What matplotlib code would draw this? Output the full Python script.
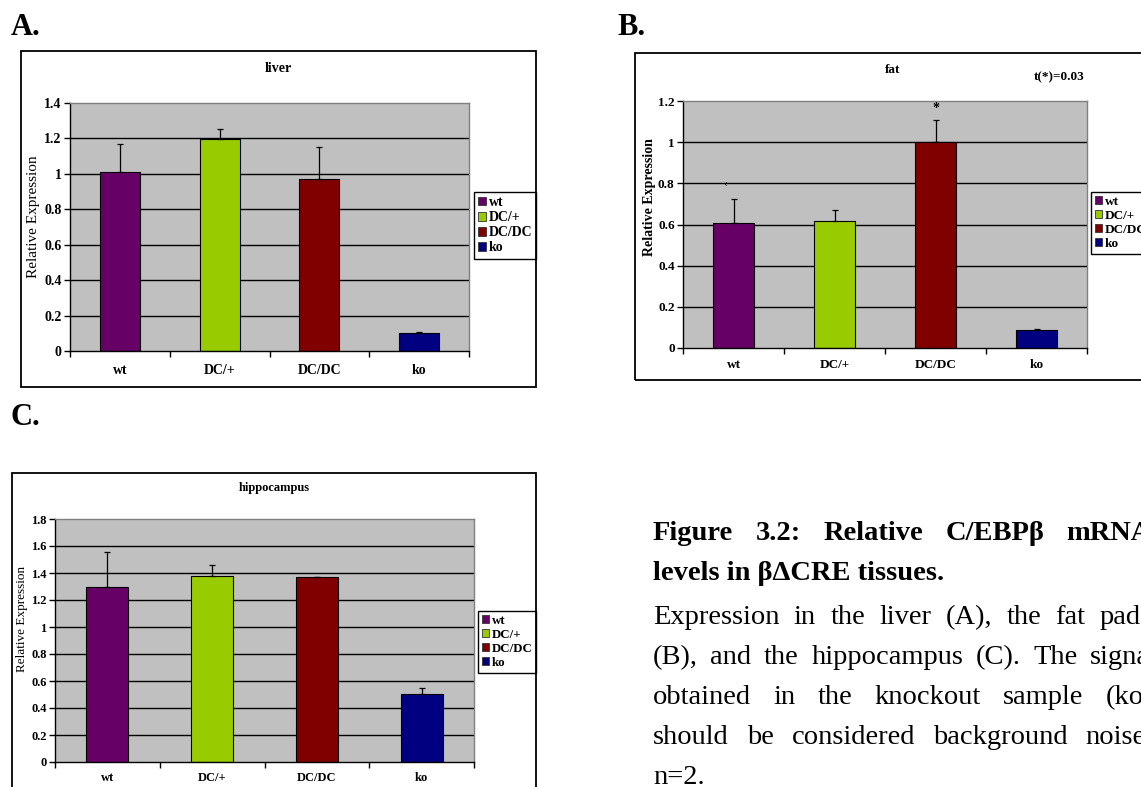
import numpy as np
import matplotlib
matplotlib.use("Agg")
import matplotlib.pyplot as plt
from matplotlib.patches import Rectangle, Patch

plt.rcParams["font.family"] = ["Liberation Serif", "DejaVu Serif"]

# ---------- Data ----------
groups = ["wt", "DC/+", "DC/DC", "ko"]
bar_colors = ["#660066", "#99CC00", "#800000", "#000080"]

liver_mean = [1.012, 1.195, 0.973, 0.100]
liver_err = [0.156, 0.056, 0.177, 0.005]
liver_ticks = [0, 0.2, 0.4, 0.6, 0.8, 1.0, 1.2, 1.4]

fat_mean = [0.606, 0.615, 1.002, 0.087]
fat_err = [0.116, 0.054, 0.104, 0.007]
fat_ticks = [0, 0.2, 0.4, 0.6, 0.8, 1.0, 1.2]

hippo_mean = [1.300, 1.380, 1.373, 0.501]
hippo_err = [0.258, 0.077, 0.0, 0.045]
hippo_ticks = [0, 0.2, 0.4, 0.6, 0.8, 1.0, 1.2, 1.4, 1.6, 1.8]

caption_title = ["Figure 3.2: Relative C/EBPβ mRNA", "levels in βΔCRE tissues."]
caption_body = [
    "Expression in the liver (A), the fat pad",
    "(B), and the hippocampus (C). The signal",
    "obtained in the knockout sample (ko)",
    "should be considered background noise.",
    "n=2.",
]

# ---------- Layout (pixels) ----------
W, H = 1141, 787


def frac(x0, y0, x1, y1):
    return [x0 / W, 1 - y1 / H, (x1 - x0) / W, (y1 - y0) / H]


def draw_panel(fig, plot_box, frame_box, title, title_xy, means, errs, ticks,
               tick_fs, ylabel_xy, ylabel_fs, ylabel_weight, legend_xy,
               legend_fs, xpad):
    fx0, fy0, fx1, fy1 = frame_box
    fig.add_artist(Rectangle((fx0 / W, 1 - fy1 / H), (fx1 - fx0) / W,
                             (fy1 - fy0) / H, transform=fig.transFigure,
                             fill=False, ec="black", lw=1.3))

    ax = fig.add_axes(frac(*plot_box))
    ax.set_facecolor("#C0C0C0")
    x = np.arange(len(groups))
    for t in ticks[1:-1]:
        ax.axhline(t, color="black", lw=1.0, zorder=1)
    ax.bar(x, means, width=0.4, color=bar_colors, edgecolor="black",
           linewidth=0.8, zorder=2)
    ax.errorbar(x, means, yerr=[np.zeros(len(errs)), errs], fmt="none",
                ecolor="black", elinewidth=0.9, capsize=2.5, capthick=0.9,
                zorder=3)
    ax.set_xlim(-0.5, len(groups) - 0.5)
    ax.set_ylim(ticks[0], ticks[-1])

    ax.set_yticks(ticks)
    ax.set_yticklabels(["{:g}".format(t) for t in ticks],
                       fontweight="bold", fontsize=tick_fs)
    ax.set_xticks(np.arange(len(groups) + 1) - 0.5)
    ax.set_xticklabels([])
    ax.set_xticks(x, minor=True)
    ax.set_xticklabels(groups, minor=True, fontweight="bold", fontsize=tick_fs)
    ax.tick_params(axis="y", direction="out", length=4, width=1, pad=2)
    ax.tick_params(axis="x", which="major", direction="out", length=4, width=1)
    ax.tick_params(axis="x", which="minor", length=0, pad=xpad)

    for s in ["left", "bottom"]:
        ax.spines[s].set_color("black")
        ax.spines[s].set_linewidth(1.0)
    for s in ["top", "right"]:
        ax.spines[s].set_color("#808080")
        ax.spines[s].set_linewidth(1.0)

    fig.text(title_xy[0] / W, 1 - title_xy[1] / H, title, ha="center",
             va="center", fontweight="bold", fontsize=tick_fs)
    fig.text(ylabel_xy[0] / W, 1 - ylabel_xy[1] / H, "Relative Expression",
             ha="center", va="center", rotation=90, fontsize=ylabel_fs,
             fontweight=ylabel_weight)

    handles = [Patch(facecolor=c, edgecolor="#333333", linewidth=0.6)
               for c in bar_colors]
    leg = ax.legend(handles, groups, loc="upper left",
                    bbox_to_anchor=(legend_xy[0] / W, 1 - legend_xy[1] / H),
                    bbox_transform=fig.transFigure, borderaxespad=0,
                    fancybox=False, framealpha=1, edgecolor="black",
                    prop=dict(weight="bold", size=legend_fs),
                    handlelength=0.55, handleheight=0.55, handletextpad=0.2,
                    borderpad=0.3, labelspacing=0.15)
    leg.get_frame().set_linewidth(1.0)
    return ax


def justify(fig, renderer, words, x0, x1, y, **kw):
    texts = [fig.text(0, 1 - y / H, w, va="baseline", **kw) for w in words]
    widths = [t.get_window_extent(renderer).width for t in texts]
    gap = (x1 - x0 - sum(widths)) / (len(words) - 1)
    pos = x0
    for t, w in zip(texts, widths):
        t.set_x(pos / W)
        pos += w + gap


def main():
    fig = plt.figure(figsize=(W / 100, H / 100), dpi=100)
    renderer = fig.canvas.get_renderer()

    # A. liver
    draw_panel(fig, (70, 103, 469, 351), (21, 51, 536, 387), "liver",
               (278, 68), liver_mean, liver_err, liver_ticks, 10,
               (34, 217), 11, "normal", (474, 192), 10, 9)

    # B. fat
    axb = draw_panel(fig, (683, 101, 1087, 348), (635, 53, 1200, 380), "fat",
                     (893, 70), fat_mean, fat_err, fat_ticks, 9.5,
                     (650, 197), 10, "bold", (1091, 192), 9.5, 8)
    axb.text(2, 1.165, "*", ha="center", va="center", fontsize=10,
             fontweight="bold")
    axb.text(-0.08, 0.8, "‹", ha="center", va="center", fontsize=8)
    fig.text(1059 / W, 1 - 77 / H, "t(*)=0.03", ha="center", va="center",
             fontsize=9.5, fontweight="bold")

    # C. hippocampus
    draw_panel(fig, (55, 519, 474, 762), (12, 473, 536, 820), "hippocampus",
               (274, 488), hippo_mean, hippo_err, hippo_ticks, 9,
               (22, 619), 9.5, "normal", (478, 611), 9.3, 7)

    # panel letters
    for letter, (lx, ly) in zip(["A.", "B.", "C."],
                                [(11, 35), (617, 35), (11, 425)]):
        fig.text(lx / W, 1 - ly / H, letter, fontsize=22, fontweight="bold",
                 va="baseline")

    # caption (justified column running past the right edge)
    left = 653
    justify(fig, renderer, caption_title[0].split(), left, 1152, 540,
            fontsize=20.5, fontweight="bold")
    fig.text(left / W, 1 - 580 / H, caption_title[1], fontsize=20.5,
             fontweight="bold", va="baseline")
    right_edges = [1141, 1158, 1153, 1153]
    base = 624
    for i, line in enumerate(caption_body):
        y = base + i * 40
        if i < len(right_edges):
            justify(fig, renderer, line.split(), left, right_edges[i], y,
                    fontsize=20.5)
        else:
            fig.text(left / W, 1 - y / H, line, fontsize=20.5, va="baseline")

    fig.savefig("out.png", dpi=100)
    plt.close(fig)


if __name__ == "__main__":
    main()
